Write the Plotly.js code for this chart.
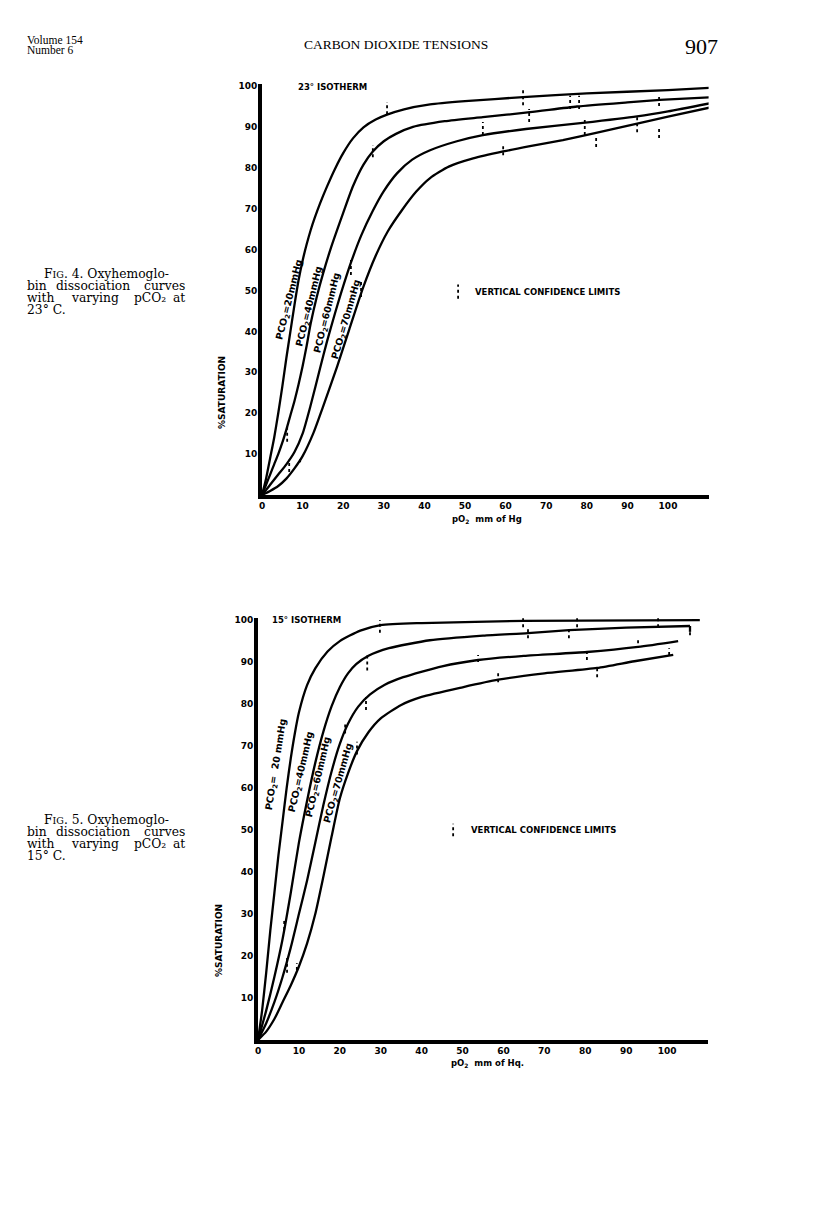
<!DOCTYPE html>
<html>
<head>
<meta charset="utf-8">
<script src="https://cdn.plot.ly/plotly-3.0.1.min.js"></script>
<style>
html,body{margin:0;padding:0;background:#fff;}
#chart{width:816px;height:1205px;}
</style>
</head>
<body>
<div id="chart"></div>
<script>
// ---------- Fig. 4 : 23° isotherm ----------
const t23_pO2_20 = [0,1,2,3,4,5,6,7,8,9,10,11,12,13,14.3,16,18,20,22.4,25,28,30.8,35,41.4,50,64.3,80,100,111];
const t23_sat_20 = [0,4,9,14,20,26.5,33.5,40,46.5,52.5,57.3,61.3,64.8,67.8,71.3,75.4,79.8,83.6,87.2,89.9,91.8,93,94.3,95.5,96.3,97.3,98.2,99,99.6];
const t23_pO2_40 = [0,1,2,3,4,5,6,7,8,9,10,11,12,13.5,15,17,20,22.4,25,27.3,30,33,37.2,45,54.4,66,77.6,90,98,111];
const t23_sat_40 = [0,2.5,5,7.5,10,12.8,16,19.5,23,27,31.5,36.5,42,48.5,54,60.5,69,75.5,80.8,84,86.5,88.3,90,91.4,92.4,93.6,95,96,96.6,97.3];
const t23_pO2_60 = [0,1,2,4,6,8,10,12,14.3,16,18,19.2,21.9,24.5,27.3,30,33.3,37,41.4,48,54.4,65,79,92.4,100,111];
const t23_sat_60 = [0,1.2,2.5,5,7.5,10.5,15,22,31,37.5,44.5,48.5,56.8,63.6,69.5,74.3,78.7,82,84.3,86.5,88,89.5,91,92.6,93.8,95.9];
const t23_pO2_70 = [0,2,4,6,8,10,12.6,15,18.5,21.5,24.9,28,31,34.5,38,41.4,46,52,59.4,66,74.1,82,92.4,100,111];
const t23_sat_70 = [0,1,2.2,4,6.5,9.5,15,21.5,31.4,40.5,50.7,58.5,64.5,69.7,74.2,77.5,80.3,82.3,84,85.3,86.8,88.5,90.8,92.5,94.9];
// vertical confidence limits (pO2, low, high)
const t23_err_pO2 = [30.8,27.3,64.3,54.4,65.8,75.9,78.1,79.5,82.3,92.4,97.8,97.8,59.4,111,21.9,24.4,6.2,6.7,9.4];
const t23_err_lo  = [93.1,82.6,95.3,88.0,91.2,94.4,94.4,88.0,85.1,88.7,95.1,87.3,83.1,97.3,53.8,48.4,13.0,5.6,8.0];
const t23_err_hi  = [96.1,85.6,99.0,91.2,94.4,97.6,97.6,92.4,88.0,92.4,98.0,89.7,85.6,99.5,58.0,52.6,16.6,8.6,9.3];

// ---------- Fig. 5 : 15° isotherm ----------
const t15_pO2_20 = [0,1,2,3,4,5,6,7,8,9,10,12,14,17,20,25,30,40,65,108];
const t15_sat_20 = [0,7,16,26,35,44,52,60,67,73,78,84.5,88.5,92.5,95,97.5,98.8,99.3,99.8,100];
const t15_pO2_40 = [0,2,4,6,8,10,12,14,16,18,20,22,24,27,32,42,55,66,76,90,105.6];
const t15_sat_40 = [0,7,15,24,35,47,57,66,73.5,79.5,84,87.3,89.5,91.5,93.3,95.2,96.3,96.9,97.6,98.2,98.6];
// short downturn at the end of the 40 mmHg curve
const t15_hook_pO2 = [105.6,105.6];
const t15_hook_sat = [98.6,97.2];
const t15_pO2_60 = [0,2,4,6,8,10,12,14,16,18,20,22,24.5,27.4,31,35.5,45,53.8,65,80.4,92.9,102.7];
const t15_sat_60 = [0,4,9,15,22,30,38,47,56,64,70.5,75.3,79.4,82.3,84.6,86.4,89,90.5,91.5,92.4,93.6,95];
const t15_pO2_70 = [0,2,4,6,8,10,12,14,16,18,20,22,24.2,27,30,35,40,50,58.7,70,82.9,92,101.5];
const t15_sat_70 = [0,2,5,9,13,17.5,23,30,39,48.5,57.5,63.5,68.8,73.3,76.6,79.8,81.7,84,85.8,87.3,88.6,90.2,91.7];
const t15_err_pO2 = [29.8,26.7,64.8,66.0,78.0,76.0,97.8,105.6,53.8,80.4,92.9,58.7,82.9,100.5,21.3,24.2,26.4,6.4,7.1,9.5];
const t15_err_lo  = [97.0,88.0,98.3,95.7,98.3,95.7,98.3,96.4,90.0,90.5,94.5,85.2,86.4,91.7,73.0,68.0,78.6,26.2,16.0,16.7];
const t15_err_hi  = [100.0,91.7,101.0,98.0,101.0,98.3,101.0,98.0,91.7,92.9,95.7,87.4,88.8,93.3,75.5,71.0,81.7,28.6,19.5,18.3];

// legend key samples (pO2, low, high) for "vertical confidence limits"
const key23 = [48.3, 48.0, 51.5];
const key15 = [47.7, 48.5, 51.5];

const curveLabels23 = ['PCO<sub>2</sub>=20mmHg','PCO<sub>2</sub>=40mmHg','PCO<sub>2</sub>=60mmHg','PCO<sub>2</sub>=70mmHg'];
const curveLabels15 = ['PCO<sub>2</sub>=  20 mmHg','PCO<sub>2</sub>=40mmHg','PCO<sub>2</sub>=60mmHg','PCO<sub>2</sub>=70mmHg'];
const xTicks = [0,10,20,30,40,50,60,70,80,90,100];
const yTicks = [10,20,30,40,50,60,70,80,90,100];

const BOLD = 'DejaVu Sans, Arial, sans-serif';
const SERIF = 'Liberation Serif, Times New Roman, serif';

function curve(x, y, xa, ya, shape) {
  return {x: x, y: y, xaxis: xa, yaxis: ya, type: 'scatter', mode: 'lines',
          line: {color: '#000', width: 2.3, shape: shape || 'spline', smoothing: 0.6},
          hoverinfo: 'skip', showlegend: false, cliponaxis: false};
}
function errBars(xs, lo, hi, xa, ya) {
  const X = [], Y = [];
  for (let i = 0; i < xs.length; i++) { X.push(xs[i], xs[i], null); Y.push(lo[i], hi[i], null); }
  return {x: X, y: Y, xaxis: xa, yaxis: ya, type: 'scatter', mode: 'lines',
          line: {color: '#000', width: 1.8, dash: 'dot'}, hoverinfo: 'skip', showlegend: false,
          cliponaxis: false};
}

const traces = [
  curve(t23_pO2_20, t23_sat_20, 'x', 'y'),
  curve(t23_pO2_40, t23_sat_40, 'x', 'y'),
  curve(t23_pO2_60, t23_sat_60, 'x', 'y'),
  curve(t23_pO2_70, t23_sat_70, 'x', 'y'),
  errBars(t23_err_pO2, t23_err_lo, t23_err_hi, 'x', 'y'),
  errBars([key23[0]], [key23[1]], [key23[2]], 'x', 'y'),
  curve(t15_pO2_20, t15_sat_20, 'x2', 'y2'),
  curve(t15_pO2_40, t15_sat_40, 'x2', 'y2'),
  curve(t15_hook_pO2, t15_hook_sat, 'x2', 'y2', 'linear'),
  curve(t15_pO2_60, t15_sat_60, 'x2', 'y2'),
  curve(t15_pO2_70, t15_sat_70, 'x2', 'y2'),
  errBars(t15_err_pO2, t15_err_lo, t15_err_hi, 'x2', 'y2'),
  errBars([key15[0]], [key15[1]], [key15[2]], 'x2', 'y2')
];

const W = 816, H = 1205;
const px = v => v / W, py = v => 1 - v / H;

const tickFont = {family: BOLD, size: 9, color: '#000', weight: 700};
function xAxis(domain, anchor) {
  return {domain: domain, anchor: anchor, range: [0, 110], showgrid: false, zeroline: false,
          showline: true, linecolor: '#000', linewidth: 4, ticks: '', tickvals: xTicks,
          ticktext: xTicks.map(String), tickfont: tickFont, ticklabelstandoff: -1, fixedrange: true};
}
function yAxis(domain, anchor) {
  return {domain: domain, anchor: anchor, range: [0, 100.5], showgrid: false, zeroline: false,
          showline: true, linecolor: '#000', linewidth: 4, ticks: '', tickvals: yTicks,
          ticktext: yTicks.map(String), tickfont: tickFont, ticklabelstandoff: -1, fixedrange: true};
}

const ann = [];
function txt(x, y, text, opts) {
  ann.push(Object.assign({xref: 'paper', yref: 'paper', x: px(x), y: py(y), text: text, showarrow: false,
    xanchor: 'left', yanchor: 'middle', font: {family: SERIF, size: 12, color: '#000'}}, opts || {}));
}
// page header
txt(25, 40, 'Volume 154', {font: {family: SERIF, size: 11.5, color: '#000'}});
txt(25, 50, 'Number 6', {font: {family: SERIF, size: 11.5, color: '#000'}});
txt(396, 45, 'CARBON DIOXIDE TENSIONS', {xanchor: 'center', font: {family: SERIF, size: 13.5, color: '#000'}});
txt(720, 47, '907', {xanchor: 'right', font: {family: SERIF, size: 22, color: '#000'}});

// captions
const capFont = {family: 'DejaVu Serif, serif', size: 12.3, color: '#000'};
function caption(y0, figNo, temp) {
  txt(42, y0, 'F<span style="font-size:9.5px">IG</span>. ' + figNo + '. Oxyhemoglo-', {font: capFont});
  txt(25, y0 + 12.3, 'bin', {font: capFont});
  txt(93, y0 + 12.3, 'dissociation', {font: capFont, xanchor: 'center'});
  txt(187, y0 + 12.3, 'curves', {font: capFont, xanchor: 'right'});
  txt(25, y0 + 24.3, 'with', {font: capFont});
  txt(95, y0 + 24.3, 'varying', {font: capFont, xanchor: 'center'});
  txt(150, y0 + 24.3, 'pCO₂', {font: capFont, xanchor: 'center'});
  txt(187, y0 + 24.3, 'at', {font: capFont, xanchor: 'right'});
  txt(25, y0 + 36.3, temp, {font: capFont});
}
caption(274, 4, '23° C.');
caption(820, 5, '15° C.');

const lblFont = {family: BOLD, size: 8.5, color: '#000', weight: 700};
// chart texts
txt(296, 87, '23° ISOTHERM', {font: lblFont});
txt(270, 620, '15° ISOTHERM', {font: lblFont});
txt(473, 292, 'VERTICAL CONFIDENCE LIMITS', {font: lblFont});
txt(469, 830, 'VERTICAL CONFIDENCE LIMITS', {font: lblFont});
txt(487, 519, 'pO<sub>2</sub>  mm of Hg', {xanchor: 'center', font: lblFont});
txt(487, 1063, 'pO<sub>2</sub>  mm of Hq.', {xanchor: 'center', font: lblFont});
txt(222, 392, '%SATURATION', {xanchor: 'center', textangle: -90, font: {family: BOLD, size: 9, color: '#000', weight: 700}});
txt(219, 941, '%SATURATION', {xanchor: 'center', textangle: -90, font: {family: BOLD, size: 9, color: '#000', weight: 700}});

// curve labels (data coordinates)
const lbl23Pos = [[6.9, 47.7, -76], [11.8, 46, -76], [16.0, 44.5, -76], [20.9, 42.8, -74]];
const lbl15Pos = [[4.6, 65.5, -81], [10.5, 63.8, -77], [14.7, 62.6, -77], [19.6, 61.2, -74]];
const curveLblFont = {family: BOLD, size: 9.5, color: '#000', weight: 700};
curveLabels23.forEach((t, i) => ann.push({xref: 'x', yref: 'y', x: lbl23Pos[i][0], y: lbl23Pos[i][1], text: t,
  textangle: lbl23Pos[i][2], showarrow: false, font: curveLblFont}));
curveLabels15.forEach((t, i) => ann.push({xref: 'x2', yref: 'y2', x: lbl15Pos[i][0], y: lbl15Pos[i][1], text: t,
  textangle: lbl15Pos[i][2], showarrow: false, font: curveLblFont}));

const layout = {
  width: W, height: H, margin: {l: 0, r: 0, t: 0, b: 0}, paper_bgcolor: '#fff', plot_bgcolor: '#fff',
  showlegend: false,
  xaxis: xAxis([px(262), px(708.6)], 'y'),
  yaxis: yAxis([py(495), py(84)], 'x'),
  xaxis2: xAxis([px(258), px(708)], 'y2'),
  yaxis2: yAxis([py(1040), py(618)], 'x2'),
  annotations: ann
};

Plotly.newPlot('chart', traces, layout, {staticPlot: true, displayModeBar: false});
</script>
</body>
</html>
